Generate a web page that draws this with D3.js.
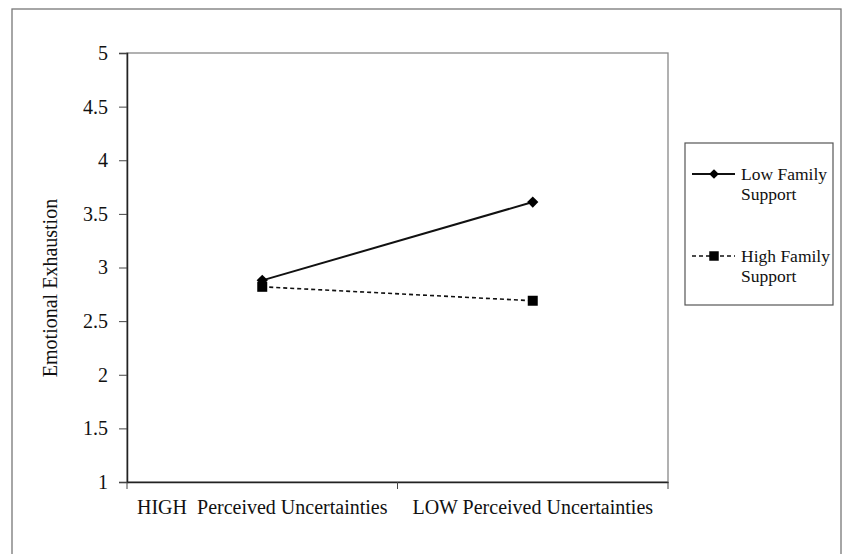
<!DOCTYPE html>
<html>
<head>
<meta charset="utf-8">
<script src="https://cdn.jsdelivr.net/npm/d3@7"></script>
<style>
  body { margin: 0; background: #fff; }
  text { font-family: "Liberation Serif", "Times New Roman", serif; fill: #111; }
</style>
</head>
<body>
<div id="chart"></div>
<script>
// categories and values
let categories = ["HIGH  Perceived Uncertainties", "LOW Perceived Uncertainties"];
let lowSupport = [2.88, 3.61];
let highSupport = [2.82, 2.69];
let yTicks = [1, 1.5, 2, 2.5, 3, 3.5, 4, 4.5, 5];
let seriesNames = ["Low Family Support", "High Family Support"];

let width = 842, height = 554;
let margin = {left: 127, top: 53, right: 174, bottom: 72};
let gWidth = width - margin.left - margin.right;
let gHeight = height - margin.top - margin.bottom;

let svg = d3.select("#chart").append("svg")
    .attr("width", width)
    .attr("height", height);

// outer frame
svg.append("rect")
    .attr("x", 12).attr("y", 9)
    .attr("width", 829).attr("height", 560)
    .attr("fill", "none").attr("stroke", "#777").attr("stroke-width", 1.3);

let g = svg.append("g")
    .attr("transform", `translate(${margin.left},${margin.top})`);

// y axis
let y = d3.scaleLinear().domain([1, 5]).range([gHeight, 0]);
// x axis (band, points in the middle)
let x = d3.scaleBand().domain(categories).range([0, gWidth]);

// plot frame (top / right grey)
g.append("rect")
    .attr("width", gWidth).attr("height", gHeight)
    .attr("fill", "none").attr("stroke", "#888").attr("stroke-width", 1.3);

let yAxis = d3.axisLeft(y).tickValues(yTicks).tickSize(8).tickPadding(11)
    .tickFormat(d3.format("~g"));
let ya = g.append("g").call(yAxis);
ya.selectAll("text").style("font-size", "20px").attr("font-family", null);
ya.select(".domain").attr("stroke", "#222").attr("stroke-width", 1.5);
ya.selectAll(".tick line").attr("stroke", "#444");

let xAxis = d3.axisBottom(x).tickSize(0).tickPadding(18);
let xa = g.append("g").attr("transform", `translate(0,${gHeight})`).call(xAxis);
xa.selectAll("text").style("font-size", "20px").attr("font-family", null)
    .style("white-space", "pre");
xa.select(".domain").attr("stroke", "#222").attr("stroke-width", 1.5);
// tick marks at band edges
let edges = [0].concat(categories.map(c => x(c) + x.bandwidth()));
xa.selectAll(".edge").data(edges).enter().append("line")
    .attr("x1", d => d).attr("x2", d => d)
    .attr("y1", 0).attr("y2", 7)
    .attr("stroke", "#444");

// y title
svg.append("text")
    .attr("transform", "translate(57,288) rotate(-90)")
    .attr("text-anchor", "middle")
    .style("font-size", "20px")
    .text("Emotional Exhaustion");

let cx = c => x(c) + x.bandwidth() / 2;
let line = d3.line().x((d, i) => cx(categories[i])).y(d => y(d));

g.append("path").datum(highSupport)
    .attr("d", line).attr("fill", "none")
    .attr("stroke", "#111").attr("stroke-width", 1.6)
    .attr("stroke-dasharray", "4,3");
g.append("path").datum(lowSupport)
    .attr("d", line).attr("fill", "none")
    .attr("stroke", "#111").attr("stroke-width", 2);

let diamond = d3.symbol().type(d3.symbolDiamond2).size(80);
let square = d3.symbol().type(d3.symbolSquare).size(100);

g.selectAll(".sq").data(highSupport).enter().append("path")
    .attr("d", square)
    .attr("transform", (d, i) => `translate(${cx(categories[i])},${y(d)})`)
    .attr("fill", "#000");
g.selectAll(".dm").data(lowSupport).enter().append("path")
    .attr("d", diamond)
    .attr("transform", (d, i) => `translate(${cx(categories[i])},${y(d)})`)
    .attr("fill", "#000");

// legend
let lg = svg.append("g").attr("transform", "translate(685,143)");
lg.append("rect").attr("width", 148).attr("height", 162)
    .attr("fill", "none").attr("stroke", "#555").attr("stroke-width", 1.2);

let rows = [
    {y: 31, dash: null, w: 2, lines: ["Low Family", "Support"]},
    {y: 113, dash: "4,3", w: 1.6, lines: ["High Family", "Support"]}
];
rows.forEach((r, i) => {
    let row = lg.append("g").attr("transform", `translate(0,${r.y})`);
    row.append("line").attr("x1", 7).attr("x2", 50)
        .attr("stroke", "#111").attr("stroke-width", r.w)
        .attr("stroke-dasharray", r.dash);
    row.append("path").attr("d", i === 0 ? d3.symbol().type(d3.symbolDiamond2).size(60)() : d3.symbol().type(d3.symbolSquare).size(90)())
        .attr("transform", "translate(29,0)").attr("fill", "#000");
    row.selectAll("text").data(r.lines).enter().append("text")
        .attr("x", 56).attr("y", (d, j) => 6 + j * 20)
        .style("font-size", "17.5px")
        .text(d => d);
});
</script>
</body>
</html>
